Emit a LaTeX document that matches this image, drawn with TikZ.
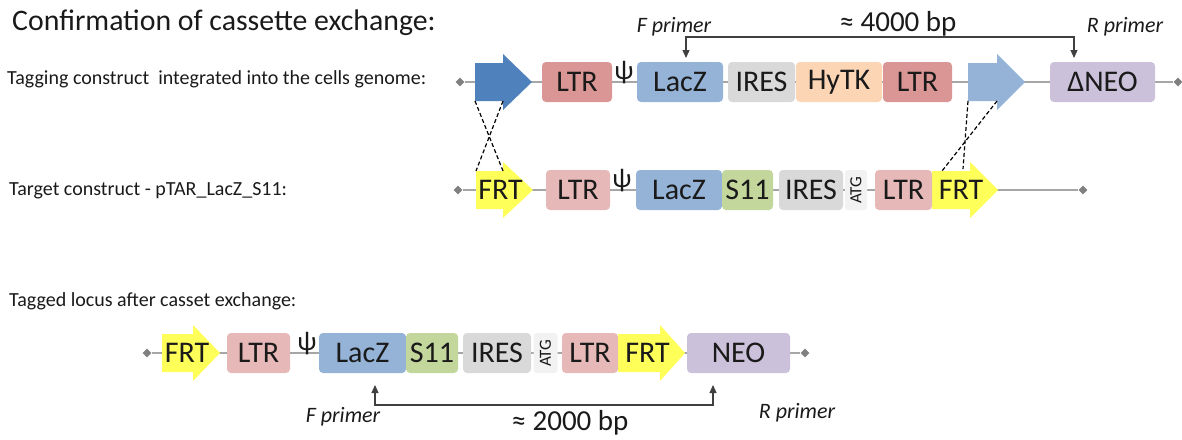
\documentclass[tikz,border=0pt]{standalone}
\usepackage{fontspec}
\setmainfont{Carlito}
\usetikzlibrary{arrows.meta,shapes.geometric}
\definecolor{ltrD}{HTML}{D99694}
\definecolor{ltrL}{HTML}{E6B9B8}
\definecolor{laczc}{HTML}{95B3D7}
\definecolor{iresc}{HTML}{D9D9D9}
\definecolor{hytkc}{HTML}{FCD5B5}
\definecolor{neoc}{HTML}{CCC1DA}
\definecolor{sgreen}{HTML}{C3D69B}
\definecolor{atgc}{HTML}{F2F2F2}
\definecolor{frtc}{HTML}{FFFF5A}
\definecolor{blueD}{HTML}{4F81BD}
\definecolor{blueL}{HTML}{95B3D7}
\definecolor{dnaline}{HTML}{A6A6A6}
\definecolor{txt}{HTML}{1A1A1A}
\tikzset{
  box/.style={rounded corners=4pt, minimum height=40pt, inner sep=0pt,
    font=\fontsize{30}{30}\selectfont, text=txt},
  atgbox/.style={rounded corners=3pt, rotate=90, minimum width=40pt, inner sep=0pt,
    fill=atgc, font=\fontsize{17}{17}\selectfont, text=txt},
  lbl/.style={inner sep=0pt, font=\fontsize{30}{30}\selectfont, text=txt},
  psi/.style={anchor=south, inner sep=0pt, font=\fontsize{27}{27}\selectfont, text=txt},
  dot/.style={diamond, fill=gray, minimum size=9pt, inner sep=0pt},
  dnaline/.style={draw=dnaline, line width=1.6pt},
  cross/.style={draw=black, line width=1.2pt, dash pattern=on 4pt off 2.5pt},
  primer/.style={draw=black!75, line width=1.2pt, {Triangle[width=7pt,length=8pt]}-{Triangle[width=7pt,length=8pt]}},
  rowlbl/.style={anchor=base west, inner sep=0pt, font=\fontsize{20}{20}\selectfont, text=txt},
  plbl/.style={anchor=base, inner sep=0pt, font=\itshape\fontsize{22}{22}\selectfont, text=txt},
  bplbl/.style={anchor=base, inner sep=0pt, font=\fontsize{29}{29}\selectfont, text=txt},
}
\newcommand\dnaarrow[7]{%
  \fill[#6] (#2,#5-19) -- (#3,#5-19) -- (#3,#5-28) -- (#4,#5) -- (#3,#5+28) -- (#3,#5+19) -- (#2,#5+19) -- cycle;
  \node[lbl] (#1) at ({(#2+#4)/2-4},#5) {#7};
  \coordinate (#1-bl) at (#2,#5+19);
  \coordinate (#1-br) at (#3,#5+19);
  \coordinate (#1-tl) at (#2,#5-19);
  \coordinate (#1-tr) at (#3,#5-19);
}
\begin{document}
\begin{tikzpicture}[x=1pt,y=-1pt]
\useasboundingbox (0,0) rectangle (1182,439);

% titles
\node[anchor=base west, inner sep=0pt, font=\fontsize{29.8}{30}\selectfont, text=txt] (title) at (12,30) {Confirmation of cassette exchange:};
\node[rowlbl] (lab1) at (7,84) {Tagging construct\ \ integrated into the cells genome:};
\node[rowlbl] (lab2) at (9,195) {Target construct - pTAR\_LacZ\_S11:};
\node[rowlbl] (lab3) at (9,306) {Tagged locus after casset exchange:};

% ---------- row 1 ----------
\node[dot] (d1a) at (460,82) {};
\node[dot] (d1b) at (1178,82) {};
\draw[dnaline] (d1a) -- (d1b);
\dnaarrow{arrA}{475}{503}{532}{82}{blueD}{}
\node[box, fill=ltrD, minimum width=70pt] (ltr1a) at (577,82) {LTR};
\node[psi] (psi1) at (624,84) {ψ};
\node[box, fill=laczc, minimum width=86pt] (lacz1) at (680,82) {LacZ};
\node[box, fill=iresc, minimum width=67pt] (ires1) at (761.5,82) {IRES};
\node[box, fill=hytkc, minimum width=86pt] (hytk1) at (839,82) {HyTK};
\node[box, fill=ltrD, minimum width=69pt] (ltr1b) at (917.5,82) {LTR};
\dnaarrow{arrB}{968}{997}{1025}{82}{blueL}{}
\node[box, fill=neoc, minimum width=105pt] (dneo) at (1102.5,82) {ΔNEO};

% primers row 1
\coordinate (pF1) at (686,58);
\coordinate (pR1) at (1074,58);
\draw[primer] (pF1) -- ++(0,-21) -| (pR1);
\node[plbl] (fp1) at (674,32) {F primer};
\node[bplbl] (bp1) at (898,31) {≈ 4000 bp};
\node[plbl] (rp1) at (1125,32) {R primer};

% ---------- row 2 ----------
\node[dot] (d2a) at (458,190) {};
\node[dot] (d2b) at (1083,190) {};
\draw[dnaline] (d2a) -- (d2b);
\dnaarrow{frtA}{476}{503}{533}{190}{frtc}{FRT}
\node[box, fill=ltrL, minimum width=64pt] (ltr2a) at (578,190) {LTR};
\node[psi] (psi2) at (622,192) {ψ};
\node[box, fill=laczc, minimum width=86pt] (lacz2) at (679,190) {LacZ};
\node[box, fill=sgreen, minimum width=51pt] (s11b) at (747.5,190) {S11};
\node[box, fill=iresc, minimum width=64pt] (ires2) at (811,190) {IRES};
\node[atgbox, minimum height=22pt] (atg2) at (856,190) {ATG};
\dnaarrow{frtB}{932}{970}{998}{190}{frtc}{FRT}
\node[box, fill=ltrL, minimum width=57pt] (ltr2b) at (903.5,190) {LTR};

% crossing lines
\coordinate (xC) at (963,169);
\coordinate (xD) at (942,171);
\draw[cross] (arrA-bl) -- (frtA-tr);
\draw[cross] (arrA-br) -- (frtA-tl);
\draw[cross] (arrB-bl) -- (xC);
\draw[cross] (arrB-br) -- (xD);

% ---------- row 3 ----------
\node[dot] (d3a) at (147,353) {};
\node[dot] (d3b) at (805,353) {};
\draw[dnaline] (d3a) -- (d3b);
\dnaarrow{frtC}{162}{193}{220}{353}{frtc}{FRT}
\node[box, fill=ltrL, minimum width=63pt] (ltr3a) at (258.5,353) {LTR};
\node[psi] (psi3) at (307,355) {ψ};
\node[box, fill=laczc, minimum width=87pt] (lacz3) at (362.5,353) {LacZ};
\node[box, fill=sgreen, minimum width=52pt] (s11c) at (432,353) {S11};
\node[box, fill=iresc, minimum width=68pt] (ires3) at (497,353) {IRES};
\node[atgbox, minimum height=24pt] (atg3) at (545.5,353) {ATG};
\dnaarrow{frtD}{618}{660}{685}{353}{frtc}{FRT}
\node[box, fill=ltrL, minimum width=56pt] (ltr3b) at (590,353) {LTR};
\node[box, fill=neoc, minimum width=103pt] (neo3) at (738.5,353) {NEO};

% primers row 3
\coordinate (pF2) at (375,385);
\coordinate (pR2) at (713,385);
\draw[primer] (pF2) -- ++(0,20) -| (pR2);
\node[plbl] (fp2) at (343,422) {F primer};
\node[bplbl] (bp2) at (570,430) {≈ 2000 bp};
\node[plbl] (rp2) at (797,418) {R primer};
\end{tikzpicture}
\end{document}
